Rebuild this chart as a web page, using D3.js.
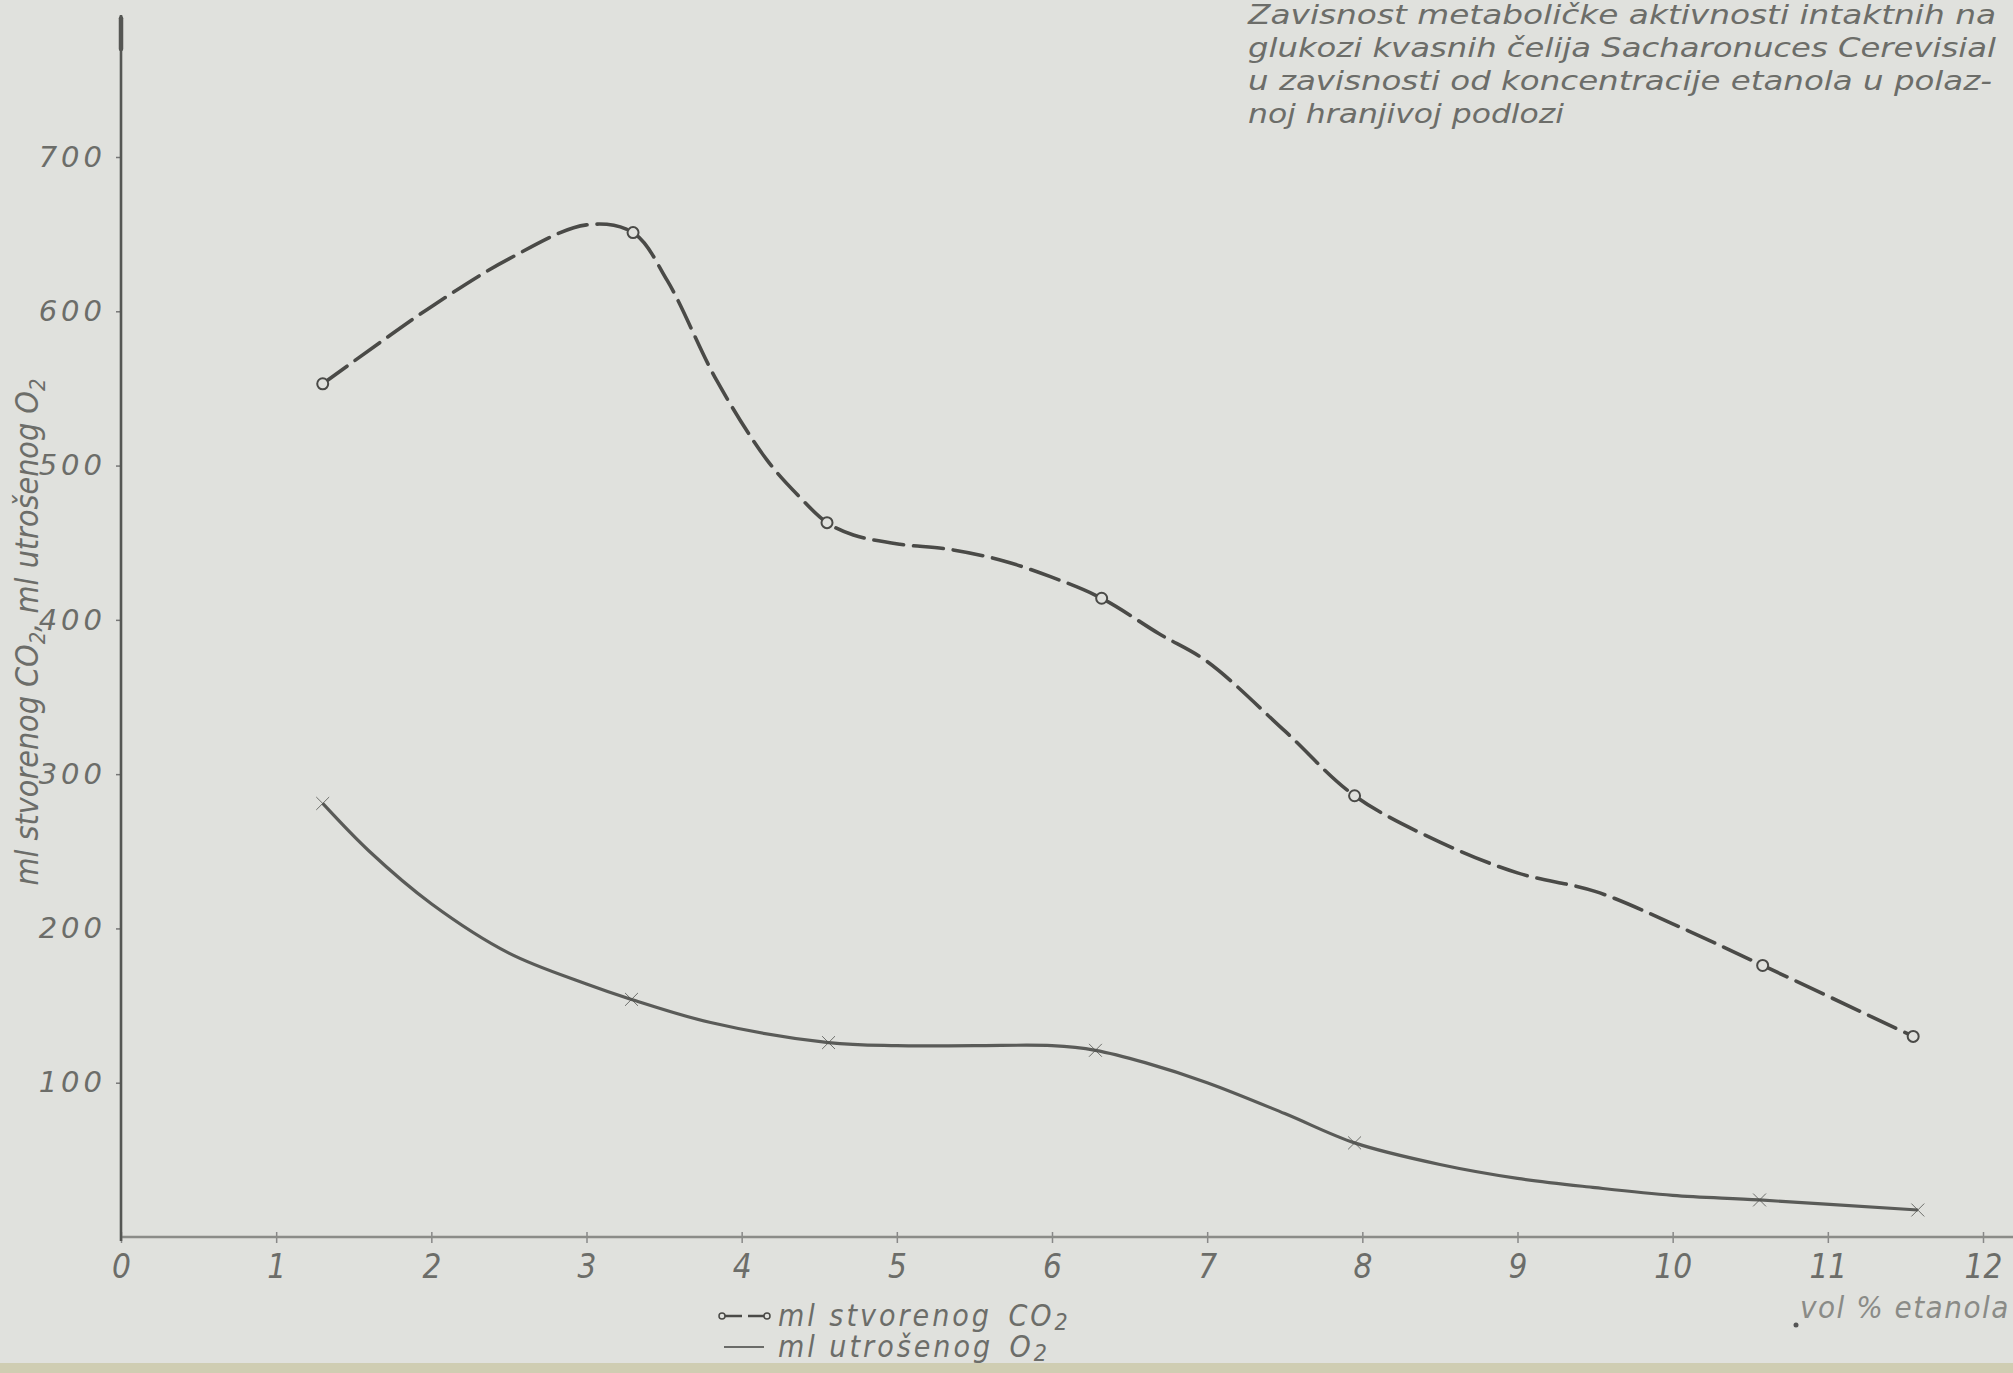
<!DOCTYPE html>
<html>
<head>
<meta charset="utf-8">
<script src="https://cdn.jsdelivr.net/npm/d3@7"></script>
<style>
  html, body { margin: 0; padding: 0; background: #e0e1dd; }
  svg { display: block; }
</style>
</head>
<body>
<script>
// ---------- data ----------
const xTicks = [0, 1, 2, 3, 4, 5, 6, 7, 8, 9, 10, 11, 12];
const yTicks = [100, 200, 300, 400, 500, 600, 700];

// measured points (markers)
const co2X = [1.3, 3.3, 4.55, 6.32, 7.95, 10.58, 11.55];
const co2Y = [553, 651, 463, 414, 286, 176, 130];
const o2X  = [1.3, 3.29, 4.56, 6.28, 7.95, 10.56, 11.58];
const o2Y  = [281, 154, 126, 121, 61, 24, 17.5];

// drawn (hand-smoothed) curves
const co2CurveX = [1.3, 1.7, 2.0, 2.5, 3.0, 3.3, 3.52, 3.84, 4.16, 4.37, 4.55, 4.72, 5.02, 5.32, 5.66, 5.99, 6.32, 6.69, 7.0, 7.5, 7.95, 8.5, 9.0, 9.5, 10.0, 10.58, 11.55];
const co2CurveY = [553, 582, 603, 634, 656, 651, 620, 555, 504, 480, 463, 455, 449, 446, 439, 428, 414, 391, 373, 328, 286, 256, 236, 224, 203, 176, 130];
const o2CurveX  = [1.3, 1.6, 2.0, 2.5, 3.0, 3.29, 3.8, 4.56, 5.0, 5.5, 6.0, 6.28, 6.6, 7.0, 7.5, 7.95, 8.5, 9.0, 9.5, 10.0, 10.56, 11.58];
const o2CurveY  = [281, 250, 216, 184, 164, 154, 139, 126, 124, 124, 124, 121, 113, 100, 80, 61, 47, 38, 32, 27, 24, 17.5];

const titleLines = [
  "Zavisnost metaboličke aktivnosti intaktnih na",
  "glukozi kvasnih čelija Sacharonuces Cerevisial",
  "u zavisnosti od koncentracije etanola u polaz-",
  "noj hranjivoj podlozi"
];
const legendLabels = ["ml stvorenog CO", "ml utrošenog O"];
const xAxisLabel = "vol % etanola";

// ---------- layout ----------
const W = 2013, H = 1373;
const bg = "#e0e1dd";
const ink = "#4a4a47";
const textCol = "#6c6d69";
const narrow = "'Liberation Sans Narrow', 'DejaVu Sans Condensed', 'Roboto', sans-serif";

const x = d3.scaleLinear().domain([0, 12]).range([121, 1983]);
const y = d3.scaleLinear().domain([0, 700]).range([1237, 157]);

const svg = d3.select("body").append("svg").attr("width", W).attr("height", H);
svg.append("rect").attr("width", W).attr("height", H).attr("fill", bg);
// bottom strip
svg.append("rect").attr("x", 0).attr("y", 1363).attr("width", W).attr("height", 10).attr("fill", "#cfcdb2");

// ---------- axes ----------
const yAxis = d3.axisLeft(y).tickValues(yTicks).tickSize(5).tickPadding(10).tickFormat(d3.format("d"));
const gy = svg.append("g").attr("transform", `translate(${x(0)},0)`).call(yAxis);
gy.select(".domain").remove();
gy.selectAll(".tick line").attr("stroke", "#777").attr("stroke-width", 1.5);
gy.selectAll(".tick text")
  .attr("fill", textCol)
  .style("font-family", "'DejaVu Sans', sans-serif")
  .style("font-style", "oblique")
  .style("font-size", "29px")
  .style("letter-spacing", "4px");

const xAxis = d3.axisBottom(x).tickValues(xTicks).tickSize(6).tickPadding(12).tickFormat(d3.format("d"));
const gx = svg.append("g").attr("transform", `translate(0,${y(0)})`).call(xAxis);
gx.select(".domain").remove();
gx.selectAll(".tick line").attr("stroke", "#888").attr("stroke-width", 1.5).attr("y1", -5);
gx.selectAll(".tick text")
  .attr("fill", textCol)
  .style("font-family", narrow)
  .style("font-style", "italic")
  .style("font-size", "33px");

// axis lines
svg.append("line")
  .attr("x1", x(0)).attr("x2", x(12.2))
  .attr("y1", y(0)).attr("y2", y(0))
  .attr("stroke", "#8b8c88").attr("stroke-width", 2.5);
svg.append("line")
  .attr("x1", x(0)).attr("x2", x(0))
  .attr("y1", y(0) + 4).attr("y2", y(792))
  .attr("stroke", "#555653").attr("stroke-width", 2.6);
svg.append("line")
  .attr("x1", x(0)).attr("x2", x(0))
  .attr("y1", y(770)).attr("y2", y(790))
  .attr("stroke", "#555653").attr("stroke-width", 4.5).attr("stroke-linecap", "round");

// ---------- curves ----------
const line = d3.line().x(d => x(d[0])).y(d => y(d[1])).curve(d3.curveCatmullRom.alpha(0.5));
const co2Curve = co2CurveX.map((v, i) => [v, co2CurveY[i]]);
const o2Curve  = o2CurveX.map((v, i) => [v, o2CurveY[i]]);

svg.append("path").datum(co2Curve).attr("d", line)
  .attr("fill", "none").attr("stroke", ink).attr("stroke-width", 3.6)
  .attr("stroke-dasharray", "30,10").attr("stroke-linecap", "round");
svg.append("path").datum(o2Curve).attr("d", line)
  .attr("fill", "none").attr("stroke", "#5a5b58").attr("stroke-width", 3.2);

// markers
svg.append("g").selectAll("circle").data(co2X.map((v, i) => [v, co2Y[i]])).join("circle")
  .attr("cx", d => x(d[0])).attr("cy", d => y(d[1])).attr("r", 5.5)
  .attr("fill", bg).attr("stroke", ink).attr("stroke-width", 2);
const cross = d3.symbol().type(d3.symbolX).size(110);
svg.append("g").selectAll("path").data(o2X.map((v, i) => [v, o2Y[i]])).join("path")
  .attr("transform", d => `translate(${x(d[0])},${y(d[1])})`)
  .attr("d", cross).attr("fill", "#4f504d").attr("stroke", "#4f504d").attr("stroke-width", 0.8);

// ---------- texts ----------
const titleEnds = [1996, 1996, 1992, 1564];
const titleBase = [24, 57, 90, 123];
titleLines.forEach((t, i) => {
  svg.append("text").attr("x", 1248).attr("y", titleBase[i])
    .attr("textLength", titleEnds[i] - 1248).attr("lengthAdjust", "spacingAndGlyphs")
    .attr("fill", textCol)
    .style("font-family", narrow).style("font-style", "italic").style("font-size", "27px")
    .text(t);
});

// y axis title
const yt = svg.append("text")
  .attr("transform", "translate(38,632) rotate(-90)")
  .attr("text-anchor", "middle")
  .attr("textLength", 507).attr("lengthAdjust", "spacingAndGlyphs")
  .attr("fill", textCol)
  .style("font-family", narrow).style("font-style", "italic").style("font-size", "32px");
yt.append("tspan").text("ml stvorenog CO");
yt.append("tspan").attr("dy", 7).style("font-size", "22px").text("2");
yt.append("tspan").attr("dy", -7).text(", ml utrošenog O");
yt.append("tspan").attr("dy", 7).style("font-size", "22px").text("2");

// legend
const legY = [1316, 1347];
// CO2 symbol: circle - dash - dash - circle
svg.append("line").attr("x1", 724).attr("x2", 742).attr("y1", legY[0]).attr("y2", legY[0]).attr("stroke", ink).attr("stroke-width", 2.5);
svg.append("line").attr("x1", 748).attr("x2", 764).attr("y1", legY[0]).attr("y2", legY[0]).attr("stroke", ink).attr("stroke-width", 2.5);
[722, 767].forEach(cx => svg.append("circle").attr("cx", cx).attr("cy", legY[0]).attr("r", 3).attr("fill", bg).attr("stroke", ink).attr("stroke-width", 1.5));
// O2 symbol
svg.append("line").attr("x1", 724).attr("x2", 764).attr("y1", legY[1]).attr("y2", legY[1]).attr("stroke", "#6a6b68").attr("stroke-width", 2);
[722, 767].forEach(cx => svg.append("path").attr("transform", `translate(${cx},${legY[1]})`).attr("d", d3.symbol().type(d3.symbolX).size(50)).attr("fill", "#6a6b68"));

legendLabels.forEach((t, i) => {
  const tx = svg.append("text").attr("x", 778).attr("y", legY[i] + 10)
    .attr("fill", textCol)
    .style("font-family", narrow).style("font-style", "italic").style("font-size", "30px")
    .style("letter-spacing", "3px");
  tx.append("tspan").text(t.replace(/ (\S+)$/, "\u2002$1"));
  tx.append("tspan").attr("dy", 4).style("font-size", "23px").text("2");
});

// x axis label
svg.append("circle").attr("cx", 1796).attr("cy", 1325).attr("r", 2.5).attr("fill", "#555");
svg.append("text").attr("x", 1800).attr("y", 1318)
  .attr("fill", "#8a8b87")
  .style("font-family", narrow).style("font-style", "italic").style("font-size", "31px")
  .style("letter-spacing", "1.5px")
  .text(xAxisLabel);
</script>
</body>
</html>
